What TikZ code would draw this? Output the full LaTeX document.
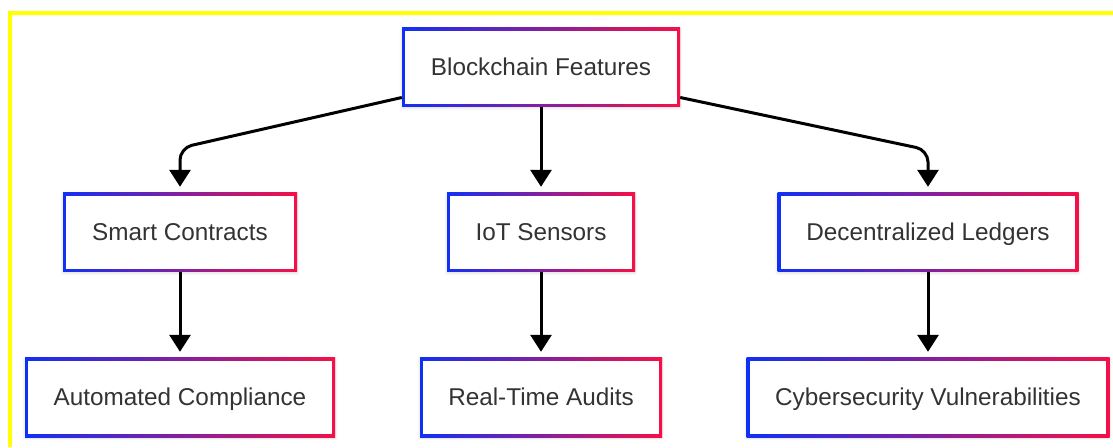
\documentclass[tikz,border=0pt]{standalone}
\usepackage{fontspec}
\setmainfont{Liberation Sans}
\usetikzlibrary{arrows.meta,shadows.blur}

\definecolor{edgeblue}{RGB}{16,48,245}
\definecolor{edgered}{RGB}{245,16,72}
\definecolor{labelgray}{RGB}{51,51,51}
\definecolor{framey}{RGB}{255,255,0}

\tikzset{
  feature/.style={
    minimum height=79pt, inner sep=0pt, fill=white,
    text height=21pt, text depth=5pt,
    font=\fontsize{24.3}{28}\selectfont, text=labelgray,
    blur shadow={shadow xshift=0pt, shadow yshift=-1pt,
      shadow blur radius=3pt, shadow opacity=15},
    % gradient frame: shaded box with a white inset on top
    path picture={
      \shade[left color=edgeblue, right color=edgered]
        (path picture bounding box.south west) rectangle
        (path picture bounding box.north east);
      \fill[white]
        ([shift={(3.2pt,3.2pt)}]path picture bounding box.south west) rectangle
        ([shift={(-3.2pt,-3.2pt)}]path picture bounding box.north east);
    }
  },
  link/.style={line width=3pt, -{Triangle[length=17pt,width=21pt]},
    shorten >=6pt}
}

\begin{document}
\begin{tikzpicture}[x=1pt,y=1pt]
\useasboundingbox (0,0) rectangle (1113,447);
% yellow frame along top and left
\draw[framey, line width=4pt] (10,0) -- (10,434) -- (1113,434);

% root
\node[feature, minimum width=278pt] (top) at (541,379.5) {Blockchain Features};

% second row
\node[feature, minimum width=234pt] (smart) at (180,214.5) {Smart Contracts};
\node[feature, minimum width=188pt] (iot) at (541,214.5) {IoT Sensors};
\node[feature, minimum width=301pt] (ledger) at (928,214.5) {Decentralized Ledgers};

% third row
\node[feature, minimum width=310pt] (compliance) at (180,49.5) {Automated Compliance};
\node[feature, minimum width=242pt] (audits) at (541,49.5) {Real-Time Audits};
\node[feature, minimum width=363pt] (vuln) at (928,49.5) {Cybersecurity Vulnerabilities};

% bends of the side links
\coordinate (lbend) at (180,299);
\coordinate (rbend) at (928,297);

\draw[link, rounded corners=12pt] ([yshift=-30pt]top.west) -- (lbend) -- (smart.north);
\draw[link] (top.south) -- (iot.north);
\draw[link, rounded corners=12pt] ([yshift=-30pt]top.east) -- (rbend) -- (ledger.north);

\draw[link] (smart.south) -- (compliance.north);
\draw[link] (iot.south) -- (audits.north);
\draw[link] (ledger.south) -- (vuln.north);
\end{tikzpicture}
\end{document}
